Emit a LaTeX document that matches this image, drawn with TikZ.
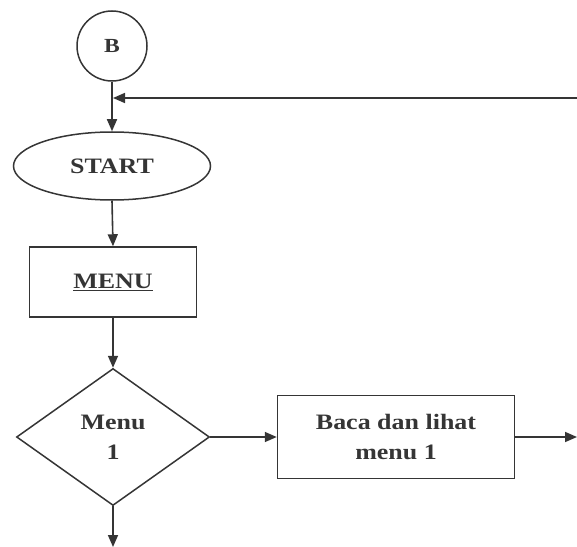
\documentclass[tikz,border=0pt]{standalone}
\usepackage{fontspec}
\setmainfont{Liberation Serif}[FakeStretch=1.18]
\usetikzlibrary{arrows.meta,shapes.geometric}
\definecolor{ink}{HTML}{353535}
\begin{document}
\begin{tikzpicture}[x=1bp,y=-1bp,
  every node/.style={draw=ink,line width=1.5bp,text=ink,align=center,inner sep=0pt,
    font=\fontsize{22bp}{30bp}\selectfont\bfseries},
  flow/.style={draw=ink,line width=1.6bp,-{Triangle[length=12bp,width=10bp]}},
  plain/.style={draw=ink,line width=1.6bp}]
\useasboundingbox (0,0) rectangle (577,547);
\node[circle,minimum size=70bp,font=\fontsize{20bp}{24bp}\selectfont\bfseries] (b) at (112,46) {B};
\node[ellipse,minimum width=197bp,minimum height=68bp] (start) at (112,166) {START};
\node[rectangle,minimum width=167bp,minimum height=70bp] (menu) at (113,282) {\underline{MENU}};
\node[diamond,minimum width=193bp,minimum height=137bp] (m1) at (113,437) {Menu\\1};
\node[rectangle,minimum width=237bp,minimum height=83bp] (baca) at (396,437) {Baca dan lihat\\menu 1};
\coordinate (loop) at (577,98);
\coordinate (join) at (112,98);
\coordinate (down) at (113,547);
\coordinate (out) at (577,437);
\draw[flow] (b.south) -- (start.north);
\draw[flow] (loop) -- ([xshift=1bp]join);
\draw[flow] (start.south) -- (menu.north);
\draw[flow] (menu.south) -- (m1.north);
\draw[flow] (m1.east) -- (baca.west);
\draw[flow] (m1.south) -- (down);
\draw[flow] (baca.east) -- (out);
\end{tikzpicture}
\end{document}
